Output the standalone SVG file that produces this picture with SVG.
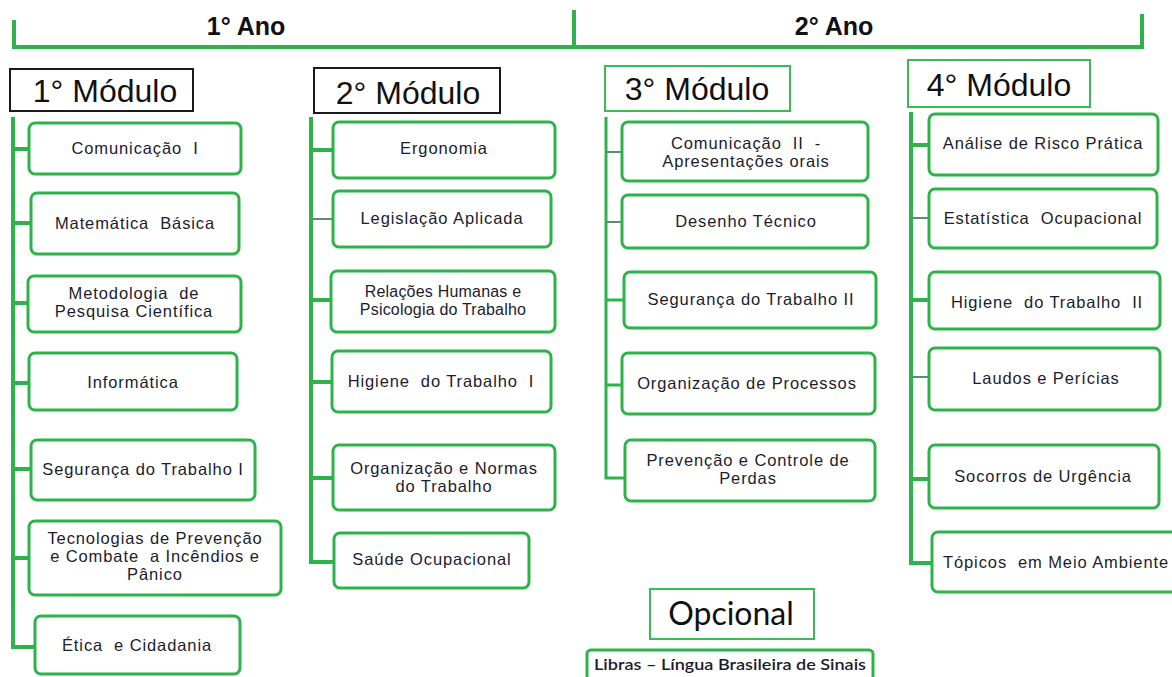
<svg xmlns="http://www.w3.org/2000/svg" width="1172" height="677" viewBox="0 0 1172 677">
<style>
.bg{fill:#ffffff}
text{white-space:pre}
.box{fill:#ffffff;stroke:#2db34a;stroke-width:3}
.hdrk{fill:#ffffff;stroke:#1a1a1a;stroke-width:2}
.hdrg{fill:#ffffff;stroke:#3cba55;stroke-width:2}
.ln{stroke:#2db34a;stroke-width:4;fill:none}
.thin{stroke:#5a8c7a;stroke-width:2;fill:none}
.t{font-family:"Liberation Sans",Arial,sans-serif;font-size:16.5px;letter-spacing:0.9px;fill:#1c1c2e;text-anchor:middle}
.ts{font-family:"Liberation Sans",Arial,sans-serif;font-size:16px;letter-spacing:0.2px;fill:#1c1c2e;text-anchor:middle}
.h{font-family:"Liberation Sans",Arial,sans-serif;font-size:32px;fill:#111111;text-anchor:middle}
.ano{font-family:"Liberation Sans",Arial,sans-serif;font-size:25px;font-weight:bold;fill:#111111;text-anchor:middle}
.cal{font-family:Lato,"Open Sans",sans-serif;fill:#1c1c2e;text-anchor:middle}
</style>
<rect class="bg" x="0" y="0" width="1172" height="677"/>

<g id="connectors">
  <path class="ln" d="M14,20 V47 H1142 V14"/>
  <path class="ln" d="M574,10 V47"/>
  <path class="ln" d="M13,117 V647 H35"/>
  <path class="ln" d="M13,149 H29"/>
  <path class="ln" d="M13,223 H31"/>
  <path class="ln" d="M13,303 H28"/>
  <path class="ln" d="M13,383 H29"/>
  <path class="ln" d="M13,469 H31"/>
  <path class="ln" d="M13,558 H30"/>
  <path class="ln" d="M311,117 V562 H334"/>
  <path class="ln" d="M311,150 H333"/>
  <path class="thin" d="M311,219 H333"/>
  <path class="ln" d="M311,300 H331"/>
  <path class="ln" d="M311,382 H332"/>
  <path class="ln" d="M311,478 H333"/>
  <path class="ln" d="M606,117 V478 H625" style="stroke-width:3"/>
  <path class="thin" d="M606,152 H622"/>
  <path class="thin" d="M606,222 H622"/>
  <path class="ln" d="M606,300 H624" style="stroke-width:3"/>
  <path class="ln" d="M606,385 H622" style="stroke-width:3"/>
  <path class="ln" d="M911,112 V563 H932"/>
  <path class="ln" d="M911,145 H929"/>
  <path class="thin" d="M911,218 H929"/>
  <path class="ln" d="M911,300 H929"/>
  <path class="thin" d="M911,377 H929"/>
  <path class="ln" d="M911,479 H929"/>
</g>

<g id="ano1"><text class="ano" x="246" y="35">1° Ano</text></g>
<g id="ano2"><text class="ano" x="834" y="35">2° Ano</text></g>

<g id="modulo1"><rect class="hdrk" x="10" y="69" width="183" height="42"/><text class="h" x="105" y="102">1° Módulo</text></g>
<g id="modulo2"><rect class="hdrk" x="314" y="68" width="186" height="45"/><text class="h" x="408" y="104">2° Módulo</text></g>
<g id="modulo3"><rect class="hdrg" x="605" y="66" width="185" height="45"/><text class="h" x="697" y="100">3° Módulo</text></g>
<g id="modulo4"><rect class="hdrg" x="908" y="60" width="182" height="47"/><text class="h" x="999" y="96">4° Módulo</text></g>

<g id="comunicacao1"><rect class="box" x="29" y="123" width="212" height="51" rx="6"/><text class="t" x="135" y="154">Comunicação  I</text></g>
<g id="matematica"><rect class="box" x="31" y="193" width="208" height="61" rx="6"/><text class="t" x="135" y="229">Matemática  Básica</text></g>
<g id="metodologia"><rect class="box" x="28" y="276" width="213" height="56" rx="6"/><text class="t" x="134" y="299">Metodologia  de</text><text class="t" x="134" y="317">Pesquisa Científica</text></g>
<g id="informatica"><rect class="box" x="29" y="353" width="208" height="57" rx="6"/><text class="t" x="133" y="388">Informática</text></g>
<g id="seguranca1"><rect class="box" x="31" y="440" width="224" height="60" rx="6"/><text class="t" x="143" y="475">Segurança do Trabalho I</text></g>
<g id="tecnologias"><rect class="box" x="29" y="521" width="252" height="74" rx="6"/><text class="t" x="155" y="544">Tecnologias de Prevenção</text><text class="t" x="155" y="562">e Combate  a Incêndios e</text><text class="t" x="155" y="580">Pânico</text></g>
<g id="etica"><rect class="box" x="35" y="616" width="205" height="58" rx="6"/><text class="t" x="137" y="651">Ética  e Cidadania</text></g>

<g id="ergonomia"><rect class="box" x="333" y="122" width="222" height="56" rx="6"/><text class="t" x="444" y="154">Ergonomia</text></g>
<g id="legislacao"><rect class="box" x="333" y="191" width="218" height="56" rx="6"/><text class="t" x="442" y="224">Legislação Aplicada</text></g>
<g id="relacoes"><rect class="box" x="331" y="271" width="224" height="61" rx="6"/><text class="ts" x="443" y="297">Relações Humanas e</text><text class="ts" x="443" y="315">Psicologia do Trabalho</text></g>
<g id="higiene1"><rect class="box" x="332" y="351" width="219" height="61" rx="6"/><text class="t" x="441" y="387">Higiene  do Trabalho  I</text></g>
<g id="organizacaonormas"><rect class="box" x="333" y="445" width="222" height="65" rx="6"/><text class="t" x="444" y="474">Organização e Normas</text><text class="t" x="444" y="492">do Trabalho</text></g>
<g id="saude"><rect class="box" x="334" y="533" width="195" height="55" rx="6"/><text class="t" x="432" y="565">Saúde Ocupacional</text></g>

<g id="comunicacao2"><rect class="box" x="622" y="122" width="246" height="59" rx="6"/><text class="t" x="746" y="149">Comunicação  II  -</text><text class="t" x="746" y="167">Apresentações orais</text></g>
<g id="desenho"><rect class="box" x="622" y="195" width="246" height="53" rx="6"/><text class="t" x="746" y="227">Desenho Técnico</text></g>
<g id="seguranca2"><rect class="box" x="624" y="272" width="252" height="56" rx="6"/><text class="t" x="751" y="305">Segurança do Trabalho II</text></g>
<g id="organizacaoprocessos"><rect class="box" x="622" y="353" width="253" height="61" rx="6"/><text class="t" x="747" y="389">Organização de Processos</text></g>
<g id="prevencao"><rect class="box" x="625" y="440" width="250" height="61" rx="6"/><text class="t" x="748" y="466">Prevenção e Controle de</text><text class="t" x="748" y="484">Perdas</text></g>

<g id="analise"><rect class="box" x="929" y="114" width="229" height="61" rx="6"/><text class="t" x="1043" y="149">Análise de Risco Prática</text></g>
<g id="estatistica"><rect class="box" x="929" y="189" width="228" height="59" rx="6"/><text class="t" x="1043" y="224">Estatística  Ocupacional</text></g>
<g id="higiene2"><rect class="box" x="929" y="272" width="231" height="57" rx="6"/><text class="t" x="1047" y="308">Higiene  do Trabalho  II</text></g>
<g id="laudos"><rect class="box" x="929" y="348" width="231" height="62" rx="6"/><text class="t" x="1046" y="384">Laudos e Perícias</text></g>
<g id="socorros"><rect class="box" x="929" y="445" width="230" height="63" rx="6"/><text class="t" x="1043" y="482">Socorros de Urgência</text></g>
<g id="topicos"><rect class="box" x="932" y="532" width="260" height="60" rx="6"/><text class="t" x="1056" y="568">Tópicos  em Meio Ambiente</text></g>

<g id="opcional"><rect class="hdrg" x="650" y="589" width="164" height="50"/><text class="cal" x="731" y="625" style="font-size:32px;fill:#111111">Opcional</text></g>
<g id="libras"><rect class="box" x="587" y="650" width="286" height="40" rx="4"/><text class="cal" x="730" y="670" textLength="272" lengthAdjust="spacingAndGlyphs" style="font-size:16px;font-weight:600">Libras – Língua Brasileira de Sinais</text></g>
</svg>
